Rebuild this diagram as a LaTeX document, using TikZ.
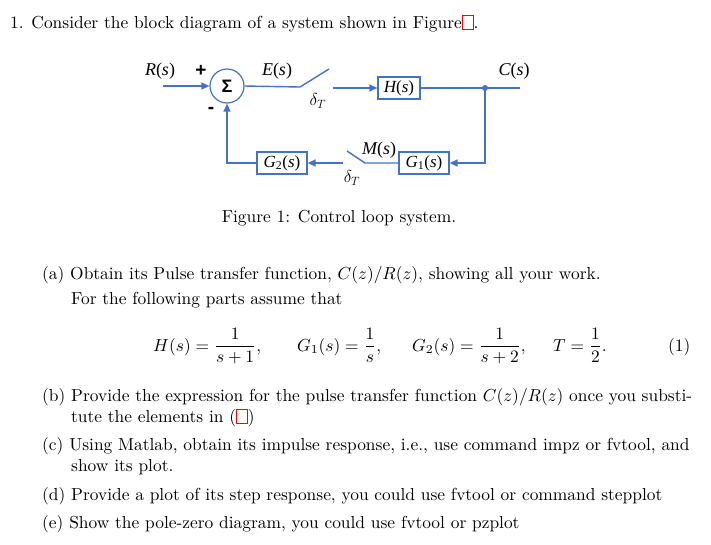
\documentclass[tikz,border=0pt]{standalone}
\usepackage{fontspec}
\usepackage{amsmath}
\usetikzlibrary{arrows.meta,positioning}
\newfontfamily\diagfont{Liberation Serif}
\newfontfamily\diagsans{Liberation Sans}
\definecolor{loopblue}{RGB}{68,114,196}
\newcommand{\refbox}[1]{{\setlength{\fboxsep}{0.5pt}\fcolorbox{red}{white}{#1}}}
\newcommand{\dv}[1]{{\diagfont\itshape #1}}
\newcommand{\bigtxt}[1]{\scalebox{1.74}{#1}}

\begin{document}
\begin{tikzpicture}[x=1pt, y=-1pt,
    txt/.style={anchor=base west, inner sep=0pt, font=\fontsize{10}{12}\selectfont},
    block/.style={rectangle, draw=loopblue, line width=1.2pt, minimum width=42pt, minimum height=22pt, inner sep=1pt, font=\diagfont\fontsize{17}{19}\selectfont},
    sumnode/.style={circle, draw=loopblue, line width=1.2pt, minimum size=34pt, inner sep=0pt, font=\diagsans\bfseries\fontsize{18}{19}\selectfont},
    lbl/.style={inner sep=0pt, font=\diagfont\fontsize{18}{19}\selectfont},
    wire/.style={draw=loopblue, line width=1.4pt},
    arrow/.style={wire, -{Triangle[length=8pt,width=7pt]}}
]
\useasboundingbox (0,0) rectangle (711,544);

% heading line
\node[txt] (head) at (10,28) {\bigtxt{1. Consider the block diagram of a system shown in Figure\refbox{\phantom{1}}.}};

% block diagram
\node[sumnode] (sum) at (227,86) {Σ};
\node[block, minimum width=42pt] (hblk) at (399,88) {\dv{H}(\dv{s})};
\node[block, minimum width=50pt] (g1) at (424,163) {\dv{G}\textsubscript{1}(\dv{s})};
\node[block, minimum width=50pt] (g2) at (282,163) {\dv{G}\textsubscript{2}(\dv{s})};
\coordinate (rin) at (163,86);
\coordinate (sw1a) at (300,87);
\coordinate (sw1b) at (329,69);
\coordinate (sw1c) at (333,88);
\coordinate (cdot) at (485,88);
\coordinate (cout) at (520,88);
\coordinate (cdown) at (485,163);
\coordinate (sw2a) at (365,163);
\coordinate (sw2b) at (347,151);
\coordinate (sw2c) at (343,163);
\coordinate (fbcorner) at (227,163);

\draw[arrow] (rin) -- (sum.west);
\draw[wire] (sum.east) -- (sw1a) -- (sw1b);
\draw[arrow] (sw1c) -- (hblk.west);
\draw[wire] (hblk.east) -- (cout);
\fill[loopblue] (cdot) circle (3pt);
\draw[arrow] (cdot) -- (cdown) -- (g1.east);
\draw[wire] (g1.west) -- (sw2a) -- (sw2b);
\draw[arrow] (sw2c) -- (g2.east);
\draw[arrow] (g2.west) -- (fbcorner) -- (sum.south);

\node[lbl] (rlbl) at (160,71) {\dv{R}(\dv{s})};
\node[lbl, font=\diagsans\bfseries\fontsize{19}{19}\selectfont] (plus) at (201,71) {+};
\node[lbl, font=\diagsans\bfseries\fontsize{19}{19}\selectfont] (minus) at (211,110) {-};
\node[lbl] (elbl) at (277,71) {\dv{E}(\dv{s})};
\node[lbl] (d1) at (318,101) {\fontsize{18}{18}\selectfont$\delta_T$};
\node[lbl] (clbl) at (514,71) {\dv{C}(\dv{s})};
\node[lbl] (mlbl) at (379,150) {\dv{M}(\dv{s})};
\node[lbl] (d2) at (352,178) {\fontsize{18}{18}\selectfont$\delta_T$};

\node[txt, anchor=base] (caption) at (339,222) {\bigtxt{Figure 1: Control loop system.}};

% questions
\node[txt] (qa) at (42,279) {\bigtxt{(a) Obtain its Pulse transfer function, $C(z)/R(z)$, showing all your work.}};
\node[txt] (qa2) at (71,304) {\bigtxt{For the following parts assume that}};
\node[txt] (eqh) at (153,351) {\bigtxt{$H(s)=\dfrac{1}{s+1},$}};
\node[txt] (eqg1) at (297,351) {\bigtxt{$G_1(s)=\dfrac{1}{s},$}};
\node[txt] (eqg2) at (412,351) {\bigtxt{$G_2(s)=\dfrac{1}{s+2},$}};
\node[txt] (eqt) at (553,351) {\bigtxt{$T=\dfrac{1}{2}.$}};
\node[txt] (eqn) at (668,351) {\bigtxt{(1)}};
\node[txt] (qb) at (42,401) {\bigtxt{(b) Provide the expression for the pulse transfer function $C(z)/R(z)$ once you substi-}};
\node[txt] (qb2) at (71,422) {\bigtxt{tute the elements in (\refbox{\phantom{1}})}};
\node[txt] (qc) at (42,450) {\bigtxt{(c) Using Matlab, obtain its impulse response, i.e., use command impz or fvtool, and}};
\node[txt] (qc2) at (71,471) {\bigtxt{show its plot.}};
\node[txt] (qd) at (42,500) {\bigtxt{(d) Provide a plot of its step response, you could use fvtool or command stepplot}};
\node[txt] (qe) at (42,528) {\bigtxt{(e) Show the pole-zero diagram, you could use fvtool or pzplot}};
\end{tikzpicture}
\end{document}
